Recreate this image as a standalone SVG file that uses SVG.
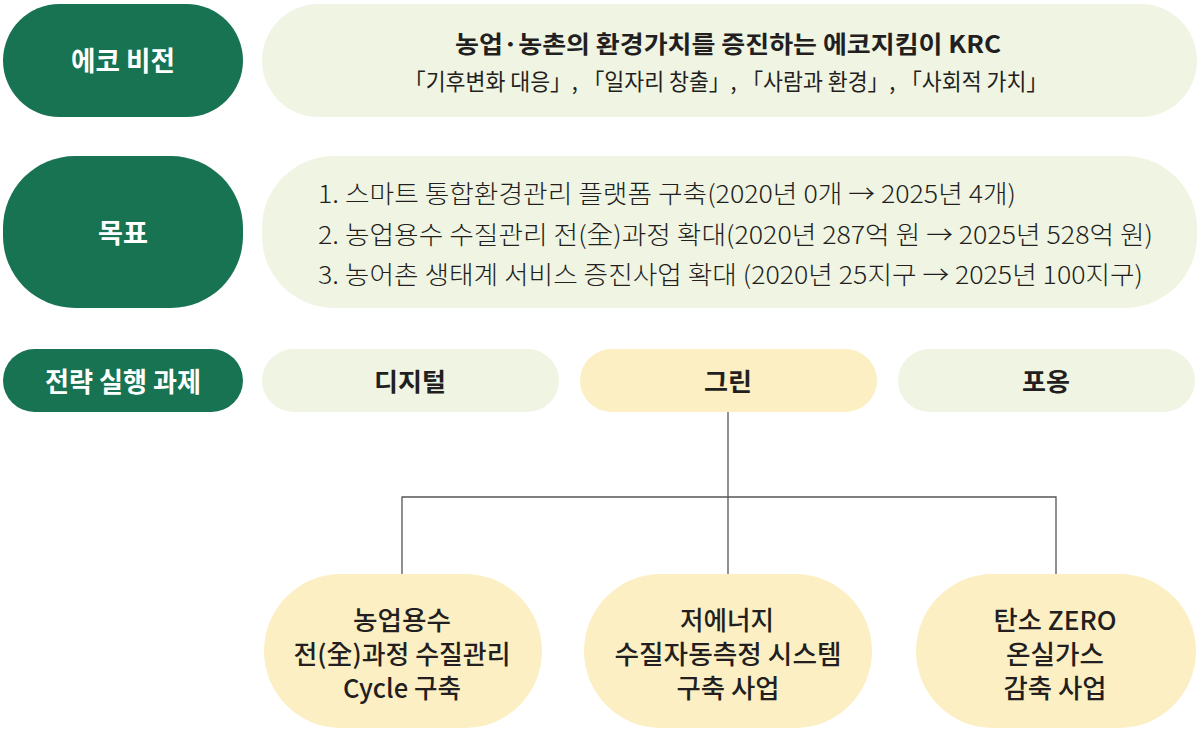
<svg xmlns="http://www.w3.org/2000/svg" width="1200" height="734" viewBox="0 0 1200 734">
<style>
text{font-family:"Noto Sans CJK KR","Noto Sans",sans-serif;fill:#231f20;text-anchor:middle;dominant-baseline:central}
.dk{fill:#177352}
.lg{fill:#f0f4e3}
.yl{fill:#fcefc4}
.wt{fill:#ffffff;font-weight:700;font-size:27px}
.hd{font-weight:700;font-size:25px}
.bd{font-weight:700;font-size:24px}
.rg{font-weight:400;font-size:23px}
.gl{font-weight:300;font-size:25px;text-anchor:start}
.bt{font-weight:500;font-size:26px}
.cn{stroke:#555555;stroke-width:1.3;fill:none}
</style>
<rect width="1200" height="734" fill="#ffffff"/>
<g id="connectors">
<path class="cn" d="M728 412V574"/>
<path class="cn" d="M402 574V497H1056V574"/>
</g>
<g id="eco-vision">
<rect class="dk" x="3" y="4" width="240" height="113" rx="56.5"/>
<text class="wt" x="123" y="59" textLength="104" lengthAdjust="spacingAndGlyphs">에코 비전</text>
</g>
<g id="vision">
<rect class="lg" x="262" y="4" width="935" height="113" rx="56.5"/>
<text class="bd" x="728" y="42" textLength="546" lengthAdjust="spacingAndGlyphs">농업·농촌의 환경가치를 증진하는 에코지킴이 KRC</text>
<text class="rg" x="726" y="80" textLength="644" lengthAdjust="spacingAndGlyphs">「기후변화 대응」, 「일자리 창출」, 「사람과 환경」, 「사회적 가치」</text>
</g>
<g id="goal-label">
<rect class="dk" x="3" y="156" width="240" height="152" rx="72"/>
<text class="wt" x="123" y="231" textLength="50" lengthAdjust="spacingAndGlyphs">목표</text>
</g>
<g id="goals">
<rect class="lg" x="262" y="156" width="935" height="152" rx="72"/>
<text class="gl" x="318" y="192" textLength="698" lengthAdjust="spacingAndGlyphs">1. 스마트 통합환경관리 플랫폼 구축(2020년 0개 → 2025년 4개)</text>
<text class="gl" x="318" y="233" textLength="835" lengthAdjust="spacingAndGlyphs">2. 농업용수 수질관리 전(全)과정 확대(2020년 287억 원 → 2025년 528억 원)</text>
<text class="gl" x="318" y="273" textLength="825" lengthAdjust="spacingAndGlyphs">3. 농어촌 생태계 서비스 증진사업 확대 (2020년 25지구 → 2025년 100지구)</text>
</g>
<g id="strategy-label">
<rect class="dk" x="3" y="349" width="240" height="63" rx="31.5"/>
<text class="wt" x="123" y="380" textLength="156" lengthAdjust="spacingAndGlyphs">전략 실행 과제</text>
</g>
<g id="digital">
<rect class="lg" x="262" y="349" width="297" height="63" rx="31.5"/>
<text class="hd" x="410" y="380" textLength="72" lengthAdjust="spacingAndGlyphs">디지털</text>
</g>
<g id="green">
<rect class="yl" x="580" y="349" width="297" height="63" rx="31.5"/>
<text class="hd" x="728" y="380" textLength="48" lengthAdjust="spacingAndGlyphs">그린</text>
</g>
<g id="embrace">
<rect class="lg" x="898" y="349" width="297" height="63" rx="31.5"/>
<text class="hd" x="1046" y="380" textLength="48" lengthAdjust="spacingAndGlyphs">포옹</text>
</g>
<g id="task1">
<rect class="yl" x="264" y="574" width="278" height="154" rx="77"/>
<text class="bt" x="402" y="618" textLength="98" lengthAdjust="spacingAndGlyphs">농업용수</text>
<text class="bt" x="402" y="652" textLength="217" lengthAdjust="spacingAndGlyphs">전(全)과정 수질관리</text>
<text class="bt" x="402" y="686" textLength="118" lengthAdjust="spacingAndGlyphs">Cycle 구축</text>
</g>
<g id="task2">
<rect class="yl" x="584" y="574" width="288" height="154" rx="77"/>
<text class="bt" x="727" y="618" textLength="94" lengthAdjust="spacingAndGlyphs">저에너지</text>
<text class="bt" x="728" y="652" textLength="227" lengthAdjust="spacingAndGlyphs">수질자동측정 시스템</text>
<text class="bt" x="728" y="686" textLength="103" lengthAdjust="spacingAndGlyphs">구축 사업</text>
</g>
<g id="task3">
<rect class="yl" x="916" y="574" width="280" height="154" rx="77"/>
<text class="bt" x="1055" y="618" textLength="123" lengthAdjust="spacingAndGlyphs">탄소 ZERO</text>
<text class="bt" x="1055" y="652" textLength="98" lengthAdjust="spacingAndGlyphs">온실가스</text>
<text class="bt" x="1055" y="686" textLength="103" lengthAdjust="spacingAndGlyphs">감축 사업</text>
</g>
</svg>
